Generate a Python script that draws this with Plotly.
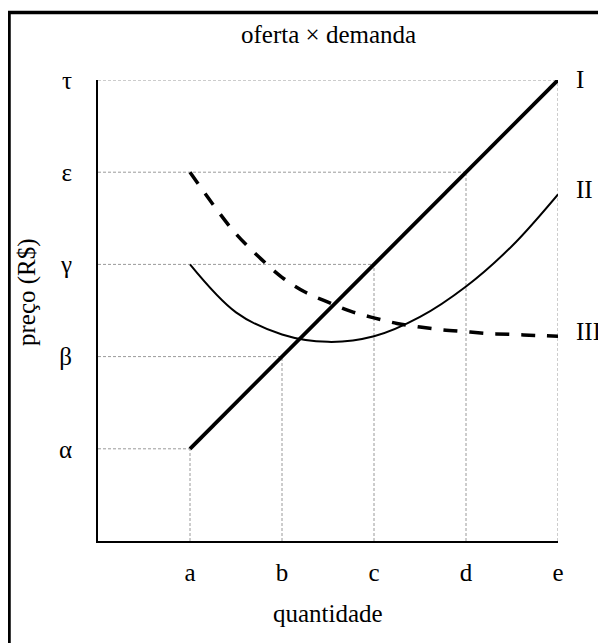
import plotly.graph_objects as go

# categories / tick labels
x_ticks = [1, 2, 3, 4, 5]
x_labels = ["a", "b", "c", "d", "e"]
y_ticks = [1, 2, 3, 4, 5]
y_labels = ["α", "β", "γ", "ε", "τ"]

# series I (straight line)
s1_x = [1, 2, 3, 4, 5]
s1_y = [1, 2, 3, 4, 5]

# series II (U-shaped curve)
s2_x = [1, 1.5, 2, 2.5, 3, 3.5, 4, 4.5, 5]
s2_y = [3.0, 2.48, 2.24, 2.16, 2.22, 2.43, 2.76, 3.2, 3.76]

# series III (dashed decreasing curve)
s3_x = [1, 1.25, 1.5, 1.75, 2, 2.25, 2.5, 2.75, 3, 3.25, 3.5, 3.75, 4, 4.25, 4.5, 4.75, 5]
s3_y = [4.0, 3.65, 3.33, 3.08, 2.86, 2.70, 2.59, 2.49, 2.42, 2.36, 2.32, 2.29, 2.27,
        2.25, 2.24, 2.23, 2.22]

series_names = ["I", "II", "III"]

FONT = "Liberation Serif"
FS = 25
W, H = 598, 635
L, R, T, B = 90, 48, 72, 102
PW, PH = W - L - R, H - T - B

def px(x):
    return (x - L) / PW

def py(y):
    return (H - B - y) / PH

fig = go.Figure()

# dotted guide lines from the points of line I
grid = dict(color="#9a9a9a", width=1, dash="3px,2px")
for xv, yv in zip(s1_x, s1_y):
    fig.add_trace(go.Scatter(x=[0, xv], y=[yv, yv], mode="lines", line=grid,
                             hoverinfo="skip", showlegend=False))
    fig.add_trace(go.Scatter(x=[xv, xv], y=[0, yv], mode="lines", line=grid,
                             hoverinfo="skip", showlegend=False))

fig.add_trace(go.Scatter(x=s2_x, y=s2_y, mode="lines", name="II",
                         line=dict(color="black", width=2, shape="spline", smoothing=1.0),
                         showlegend=False))
fig.add_trace(go.Scatter(x=s3_x, y=s3_y, mode="lines", name="III",
                         line=dict(color="black", width=3.5, dash="14px,12px",
                                   shape="spline", smoothing=1.0),
                         showlegend=False))
fig.add_trace(go.Scatter(x=s1_x, y=s1_y, mode="lines", name="I",
                         line=dict(color="black", width=3.8),
                         showlegend=False))

# series labels at the curve ends
ends = [(s1_x[-1], s1_y[-1], 1), (s2_x[-1], s2_y[-1], 5), (s3_x[-1], s3_y[-1], 5)]
for name, (xe, ye, ys) in zip(series_names, ends):
    fig.add_annotation(x=xe, y=ye, text=name, showarrow=False, xanchor="left",
                       xshift=16, yshift=ys, font=dict(family=FONT, size=FS, color="black"))

# titles
fig.add_annotation(x=0.5, y=py(27), xref="paper", yref="paper",
                   text="oferta × demanda", showarrow=False, yanchor="middle",
                   font=dict(family=FONT, size=FS, color="black"))
fig.add_annotation(x=0.5, y=py(605), xref="paper", yref="paper",
                   text="quantidade", showarrow=False, yanchor="middle",
                   font=dict(family=FONT, size=FS, color="black"))
fig.add_annotation(x=px(19), y=py(284), xref="paper", yref="paper",
                   text="preço (R$)", showarrow=False, textangle=-90,
                   xanchor="center", yanchor="middle",
                   font=dict(family=FONT, size=FS, color="black"))

# outer border
fig.add_shape(type="rect", xref="paper", yref="paper",
              x0=px(1), x1=px(W + 10), y0=py(H + 10), y1=py(4.5),
              line=dict(color="black", width=3.5), layer="above")

fig.update_xaxes(range=[0, 5], tickvals=x_ticks, ticktext=x_labels,
                 showgrid=False, zeroline=False, showline=True, linecolor="black",
                 linewidth=2, ticks="outside", ticklen=8, tickcolor="rgba(0,0,0,0)",
                 tickfont=dict(family=FONT, size=FS, color="black"))
fig.update_yaxes(range=[0, 5], tickvals=y_ticks, ticktext=y_labels,
                 showgrid=False, zeroline=False, showline=True, linecolor="black",
                 linewidth=2, ticks="outside", ticklen=19, tickcolor="rgba(0,0,0,0)",
                 tickfont=dict(family=FONT, size=FS, color="black"))

fig.update_layout(width=W, height=H, margin=dict(l=L, r=R, t=T, b=B),
                  plot_bgcolor="white", paper_bgcolor="white", showlegend=False)

fig.write_html("out.html")
